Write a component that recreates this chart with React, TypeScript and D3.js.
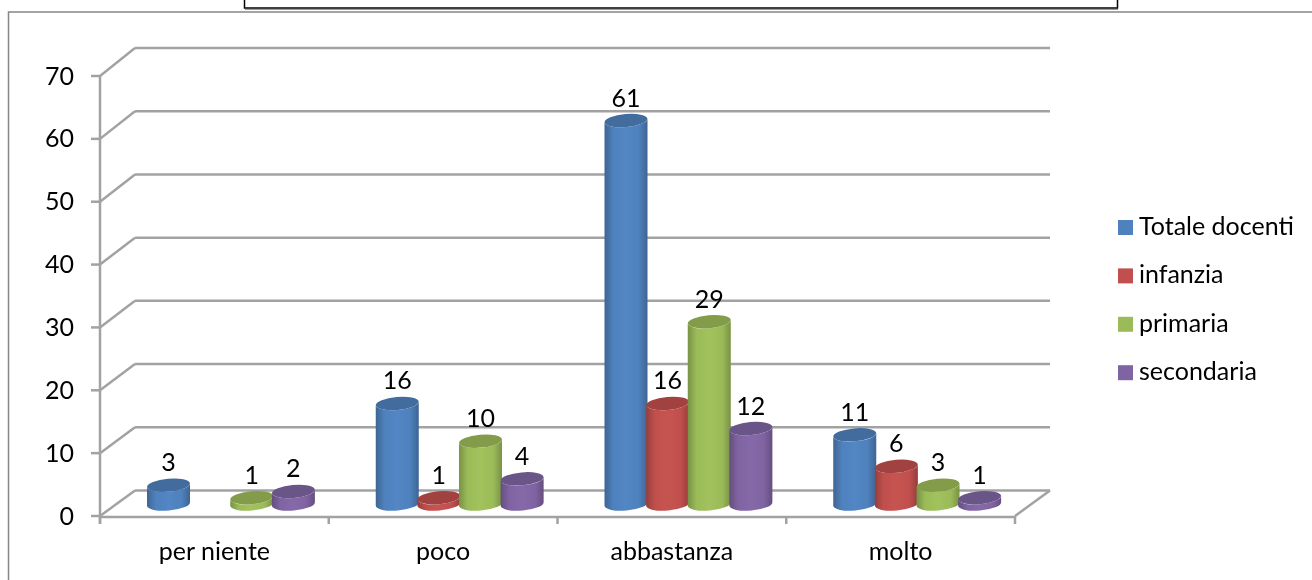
import React from 'react';
import * as d3 from 'd3';

const categories = ['per niente', 'poco', 'abbastanza', 'molto'];
const seriesNames = ['Totale docenti', 'infanzia', 'primaria', 'secondaria'];
const totale = [3, 16, 61, 11];
const infanzia = [0, 1, 16, 6];
const primaria = [1, 10, 29, 3];
const secondaria = [2, 4, 12, 1];
const seriesValues = [totale, infanzia, primaria, secondaria];
const colors = ['#4F81BD', '#C0504D', '#9BBB59', '#8064A2'];
const yTicks = [0, 10, 20, 30, 40, 50, 60, 70];

const width = 1312;
const height = 580;
const depthX = 35;
const font = 'Lato, "Open Sans", sans-serif';
const gridColor = '#A2A2A2';

const xGroup = d3.scaleBand<string>().domain(categories).range([100, 1015]);
const xSeries = d3.scaleBand<string>().domain(seriesNames).range([47, 213.5]);
const yFront = d3.scaleLinear().domain([0, 70]).range([516, 76]);
const yBack = d3.scaleLinear().domain([0, 70]).range([490.5, 48]);
const yBar = d3.scaleLinear().domain([0, 70]).range([504, 64]);

const barWidth = 43;
const ry = 6.5;
const tilt = -5;
const lift = (barWidth / 2) * Math.sin((tilt * Math.PI) / 180);

function Cylinder({ x, value, si }: { x: number; value: number; si: number }) {
  const rx = barWidth / 2;
  const cx = x + rx;
  const top = yBar(value);
  const bottom = yBar(0);
  const body = [
    `M${x},${top - lift}`,
    `L${x},${bottom - lift}`,
    `A${rx},${ry} ${tilt} 0 0 ${x + barWidth},${bottom + lift}`,
    `L${x + barWidth},${top + lift}`,
    `A${rx},${ry} ${tilt} 0 1 ${x},${top - lift}`,
    'Z',
  ].join(' ');
  return (
    <g>
      <path d={body} fill={`url(#side${si})`} />
      <ellipse
        cx={cx}
        cy={top}
        rx={rx}
        ry={ry}
        fill={d3.color(colors[si])!.darker(0.5).formatHex()}
        transform={`rotate(${tilt} ${cx} ${top})`}
      />
    </g>
  );
}

export default function App() {
  const groupTicks = [...categories.map(c => xGroup(c)!), 1015];
  return (
    <svg
      width={width}
      height={height}
      viewBox={`0 0 ${width} ${height}`}
      style={{ position: 'fixed', left: 0, top: 0, background: '#fff' }}
      fontFamily={font}
    >
      <defs>
        <filter id="soft" x="-5%" y="-5%" width="110%" height="110%">
          <feGaussianBlur stdDeviation="0.7" />
        </filter>
        <filter id="softText" x="-5%" y="-5%" width="110%" height="110%">
          <feGaussianBlur stdDeviation="0.3" />
        </filter>
        {colors.map((c, i) => {
          const dark = d3.color(c)!.darker(0.7).formatHex();
          const light = d3.color(c)!.brighter(0.1).formatHex();
          return (
            <linearGradient key={c} id={`side${i}`} x1="0" x2="1" y1="0" y2="0">
              <stop offset="0" stopColor={dark} />
              <stop offset="0.2" stopColor={c} />
              <stop offset="0.5" stopColor={light} />
              <stop offset="0.8" stopColor={c} />
              <stop offset="1" stopColor={dark} />
            </linearGradient>
          );
        })}
      </defs>

      {/* chart frame, runs off the page on the right and bottom */}
      <rect x={8.5} y={12} width={width} height={height} fill="#fff" stroke="#868686" strokeWidth={1.5} />
      {/* title box, cut by the top of the page */}
      <rect x={244.5} y={-10} width={873} height={18} fill="#fff" stroke="#000" strokeWidth={1.5} />
      <line x1={245} x2={1118} y1={9.5} y2={9.5} stroke="#999" />

      <g filter="url(#soft)" stroke={gridColor} strokeWidth={2.5} fill="none">
        {yTicks.map(t => (
          <g key={t}>
            <line x1={100 + depthX} x2={1050} y1={yBack(t)} y2={yBack(t)} />
            <line x1={100} x2={100 + depthX} y1={yFront(t)} y2={yBack(t)} />
            <line x1={91} x2={100} y1={yFront(t)} y2={yFront(t)} />
          </g>
        ))}
        <line x1={100} x2={100} y1={yFront(70)} y2={yFront(0) + 8} />
        <line x1={100} x2={1015} y1={yFront(0) + 1} y2={yFront(0) + 1} />
        <line x1={1015} x2={1050} y1={yFront(0)} y2={yBack(0)} />
        {groupTicks.map(x => (
          <line key={x} x1={x} x2={x} y1={yFront(0)} y2={yFront(0) + 8} />
        ))}
      </g>

      <g filter="url(#soft)">
        {categories.map((c, ci) =>
          seriesNames.map((s, si) => {
            const v = seriesValues[si][ci];
            if (!v) return null;
            return <Cylinder key={s} x={xGroup(c)! + xSeries(s)!} value={v} si={si} />;
          }),
        )}
      </g>

      <g fontSize={25} fill="#000" filter="url(#softText)">
        {categories.map((c, ci) =>
          seriesNames.map((s, si) => {
            const v = seriesValues[si][ci];
            if (!v) return null;
            return (
              <text
                key={s}
                x={xGroup(c)! + xSeries(s)! + barWidth / 2}
                y={yBar(v) - 14}
                textAnchor="middle"
              >
                {v}
              </text>
            );
          }),
        )}
        {yTicks.map(t => (
          <text key={t} x={74} y={yFront(t) + 8.5} textAnchor="end">
            {t}
          </text>
        ))}
        {categories.map(c => (
          <text key={c} x={xGroup(c)! + xGroup.bandwidth() / 2} y={560} textAnchor="middle">
            {c}
          </text>
        ))}
        {seriesNames.map((s, i) => (
          <g key={s} transform={`translate(1118,${220 + i * 48.4})`}>
            <rect width={15} height={15} fill={colors[i]} />
            <text x={21} y={15}>
              {s}
            </text>
          </g>
        ))}
      </g>
    </svg>
  );
}
